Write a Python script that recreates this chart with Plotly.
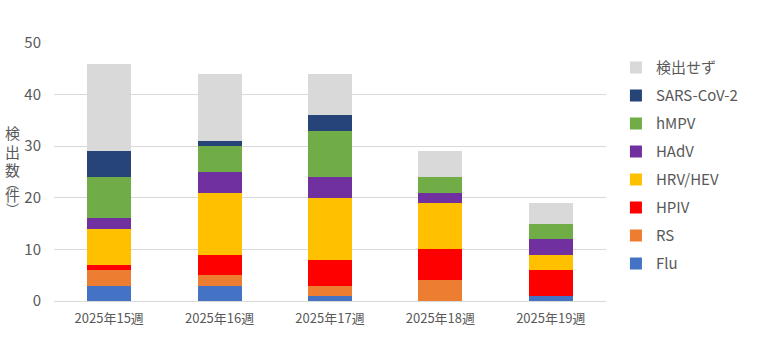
import plotly.graph_objects as go

weeks = ["2025年15週", "2025年16週", "2025年17週", "2025年18週", "2025年19週"]
flu = [3, 3, 1, 0, 1]
rs = [3, 2, 2, 4, 0]
hpiv = [1, 4, 5, 6, 5]
hrv = [7, 12, 12, 9, 3]
hadv = [2, 4, 4, 2, 3]
hmpv = [8, 5, 9, 3, 3]
sars = [5, 1, 3, 0, 0]
none_det = [17, 13, 8, 5, 4]

series = [
    ("Flu", flu, "#4472C4"),
    ("RS", rs, "#ED7D31"),
    ("HPIV", hpiv, "#FF0000"),
    ("HRV/HEV", hrv, "#FFC000"),
    ("HAdV", hadv, "#7030A0"),
    ("hMPV", hmpv, "#70AD47"),
    ("SARS-CoV-2", sars, "#264478"),
    ("検出せず", none_det, "#D9D9D9"),
]

FONT = "Noto Sans CJK JP"
GRAY = "#595959"

fig = go.Figure()
for i, (name, vals, col) in enumerate(series):
    fig.add_trace(go.Bar(
        x=weeks, y=vals, name=name, marker_color=col, marker_line_width=0,
        legendgroup=name, legendrank=1000 - 10 * i,
    ))

fig.update_layout(
    barmode="stack",
    bargap=0.6,
    width=767, height=344,
    margin=dict(l=54, r=161, t=43, b=43),
    plot_bgcolor="white", paper_bgcolor="white",
    font=dict(family=FONT, color=GRAY, size=13),
    legend=dict(
        traceorder="grouped", tracegroupgap=5.5,
        x=1.018, xanchor="left", y=0.968, yanchor="top",
        font=dict(size=15, color=GRAY, family=FONT),
        itemwidth=30,
    ),
    xaxis=dict(showgrid=False, showline=False, tickfont=dict(size=13, color=GRAY),
               ticklabelstandoff=8),
    yaxis=dict(range=[0, 50], dtick=10, showgrid=True, gridcolor="#D9D9D9", gridwidth=1,
               zeroline=True, zerolinecolor="#D9D9D9", zerolinewidth=1,
               tickfont=dict(size=15, color=GRAY), ticklabelstandoff=12, showline=False),
)

# vertical axis title
chars = [("検", 132), ("出", 151), ("数", 169), ("件", 195)]
for ch, py in chars:
    fig.add_annotation(text=ch, xref="paper", yref="paper",
                       x=-42/552, y=(301 - py) / 258, xanchor="center", yanchor="middle",
                       showarrow=False, font=dict(size=15, color=GRAY, family=FONT))
fig.add_annotation(text="︵", xref="paper", yref="paper", x=-42/552, y=(301 - 182) / 258,
                   xanchor="center", yanchor="middle", showarrow=False,
                   font=dict(size=13, color=GRAY, family=FONT))
fig.add_annotation(text="︶", xref="paper", yref="paper", x=-42/552, y=(301 - 208) / 258,
                   xanchor="center", yanchor="middle", showarrow=False,
                   font=dict(size=13, color=GRAY, family=FONT))

fig.write_html("out.html")
